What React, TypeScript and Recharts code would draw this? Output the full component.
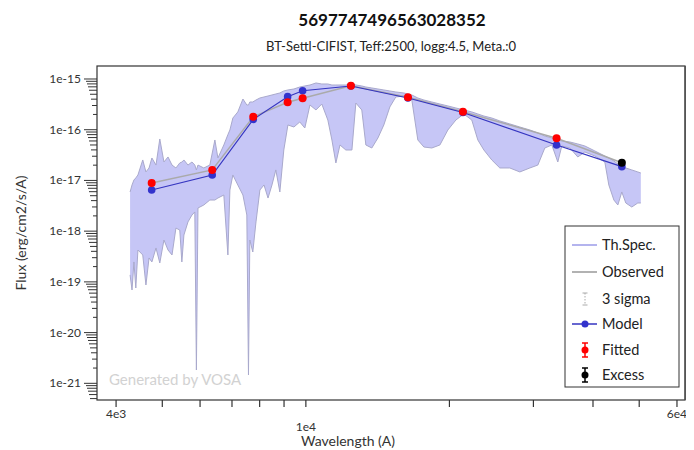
import React from 'react';
import { ComposedChart, Area, Line, XAxis, YAxis } from 'recharts';

// theoretical spectrum (Th.Spec.), upper / lower envelope of the dense model spectrum
const specWave = [
  4280, 4320, 4360, 4400, 4445, 4550, 4620, 4690, 4755, 4850,
  4940, 5040, 5140, 5240, 5340, 5440, 5495, 5550, 5660, 5770, 5850,
  5895, 5940, 6110, 6290, 6445, 6540, 6730, 6863, 6930, 7030, 7200,
  7380, 7520, 7580, 7630, 7740, 7860, 8010, 8170, 8330, 8490,
  8650, 8820, 8990, 9170, 9440, 9710, 9950, 10200, 10500, 10800,
  11120, 11340, 11560, 11790, 12130, 12490, 12730, 13100, 13360, 13750,
  14160, 14570, 15000, 15440, 16050, 16680, 17170, 17680, 18370, 19100,
  19850, 20630, 21440, 22280, 22940, 23620, 24540, 25510, 26770, 28100,
  29490, 30650, 31700, 32790, 33750, 34410, 35770, 37170, 38450, 40360,
  42350, 43180, 44240, 45100, 45970, 46870, 48240, 49660, 50390,
];
const specHigh = [
  5.92e-18, 8.13e-18, 1.02e-17, 1.12e-17, 1.28e-17, 2.53e-17, 1.47e-17, 1.76e-17, 2.77e-17, 2.01e-17,
  6.56e-17, 2.31e-17, 2.9e-17, 2.01e-17, 1.76e-17, 2.21e-17, 2.3e-17, 2.53e-17, 2.01e-17, 2.31e-17, 2.01e-17,
  1.61e-17, 2.01e-17, 1.76e-17, 2.01e-17, 6.27e-17, 2.77e-17, 5.0e-17, 8.0e-17, 9.87e-17, 1.7e-16, 2.24e-16,
  4.03e-16, 3.07e-16, 3.07e-16, 3.52e-16, 3.52e-16, 3.85e-16, 4.22e-16, 4.42e-16, 4.62e-16, 4.84e-16,
  5.06e-16, 5.3e-16, 5.8e-16, 6.07e-16, 6.35e-16, 6.95e-16, 7.28e-16, 7.61e-16, 8.34e-16, 7.97e-16,
  7.97e-16, 7.61e-16, 7.61e-16, 7.61e-16, 7.61e-16, 7.97e-16, 7.61e-16, 7.28e-16, 6.95e-16, 6.65e-16,
  6.35e-16, 6.07e-16, 5.8e-16, 5.54e-16, 5.3e-16, 4.84e-16, 4.22e-16, 3.85e-16, 3.52e-16, 3.21e-16,
  2.94e-16, 2.68e-16, 2.45e-16, 2.24e-16, 2.04e-16, 1.86e-16, 1.7e-16, 1.49e-16, 1.3e-16, 1.13e-16,
  9.87e-17, 8.62e-17, 7.52e-17, 6.87e-17, 6.27e-17, 5.99e-17, 5.73e-17, 5.23e-17, 4.78e-17, 3.81e-17,
  3.03e-17, 2.77e-17, 2.42e-17, 2.11e-17, 1.84e-17, 1.76e-17, 1.61e-17, 1.47e-17, 1.4e-17,
];
const specLow = [
  1.37e-19, 6.92e-20, 2.47e-19, 7.57e-20, 4.25e-19, 3.39e-19, 8.68e-20, 2.96e-19, 2.47e-19, 4.66e-19,
  2.36e-19, 6.69e-19, 4.25e-19, 3.39e-19, 1.15e-18, 1.05e-18, 2.47e-19, 8.4e-19, 1.52e-18, 2.08e-18, 2.39e-18,
  1.83e-21, 2.86e-18, 3.28e-18, 4.11e-18, 4.11e-18, 4.5e-18, 5.16e-18, 3.39e-19, 6.48e-18, 1.28e-17, 8.13e-18,
  5.16e-18, 2.08e-18, 1.46e-21, 6.69e-19, 3.88e-19, 1.52e-18, 6.48e-18, 8.13e-18, 4.5e-18, 8.13e-18,
  1.61e-17, 5.92e-18, 3.98e-17, 1.24e-16, 1.13e-16, 1.42e-16, 1.08e-16, 3.07e-16, 2.45e-16, 3.21e-16,
  1.55e-16, 6.27e-17, 2.21e-17, 5.0e-17, 3.98e-17, 3.98e-17, 3.36e-16, 2.45e-16, 5.0e-17, 4.36e-17,
  6.87e-17, 1.24e-16, 2.81e-16, 4.42e-16, 4.62e-16, 3.85e-16, 6.27e-17, 4.56e-17, 4.36e-17, 5.0e-17,
  9.87e-17, 1.55e-16, 2.04e-16, 1.55e-16, 6.27e-17, 3.98e-17, 2.53e-17, 1.76e-17, 1.76e-17, 1.47e-17,
  1.76e-17, 2.01e-17, 4.36e-17, 5.0e-17, 2.31e-17, 4.78e-17, 4.36e-17, 2.9e-17, 3.64e-17, 3.03e-17,
  2.31e-17, 8.13e-18, 4.11e-18, 3.28e-18, 5.92e-18, 3.59e-18, 2.99e-18, 3.59e-18, 3.59e-18,
];

// photometry
const bandWave = [4750, 6363, 7757, 9157, 9845, 12430, 16370, 21350, 33550, 45980];
const modelFlux = [6.47e-18, 1.28e-17, 1.6e-16, 4.48e-16, 5.87e-16, 7.27e-16, 4.22e-16, 2.18e-16, 4.99e-17, 1.87e-17];
const obsFlux = [8.9e-18, 1.61e-17, 1.8e-16, 3.47e-16, 4.16e-16, 7.38e-16, 4.35e-16, 2.26e-16, 6.77e-17, 2.23e-17];
const isExcess = [false, false, false, false, false, false, false, false, false, true];

const xMajorTicks = [4000, 10000, 60000];
const xMajorLabels = ['4e3', '1e4', '6e4'];
const xMinorTicks = [5000, 6000, 7000, 8000, 9000, 20000, 30000, 40000, 50000];
const yMajorTicks = [1e-21, 1e-20, 1e-19, 1e-18, 1e-17, 1e-16, 1e-15];

const X_DOMAIN = [3648, 62370];
const Y_DOMAIN = [4.69e-22, 1.803e-15];

const spectrum = specWave.map((w, i) => ({ w, range: [specLow[i], specHigh[i]] }));
const bands = bandWave.map((w, i) => ({ w, model: modelFlux[i], obs: obsFlux[i] }));
const fitted = bandWave.filter((_, i) => !isExcess[i]).map((w) => ({ w, flux: obsFlux[bandWave.indexOf(w)] }));
const excess = bandWave.filter((_, i) => isExcess[i]).map((w) => ({ w, flux: obsFlux[bandWave.indexOf(w)] }));

const xTicks = [...xMajorTicks, ...xMinorTicks].sort((a, b) => a - b);
const yTicks: number[] = [];
for (let e = -22; e <= -15; e++) {
  for (let m = 1; m <= 9; m++) {
    const v = m * Math.pow(10, e);
    if (v >= Y_DOMAIN[0] && v <= Y_DOMAIN[1]) yTicks.push(m === 1 ? yMajorTicks.find((t) => Math.abs(Math.log10(t) - e) < 1e-6) ?? v : v);
  }
}

const FONT = 'Lato, "DejaVu Sans", sans-serif';

const XTick = ({ x, y, payload }: any) => {
  const idx = xMajorTicks.indexOf(payload.value);
  const label = idx >= 0 ? xMajorLabels[idx] : null;
  return (
    <g>
      <line x1={x} x2={x} y1={y} y2={y + 7} stroke="#333" strokeWidth={1.2} />
      {label && (
        <text x={x} y={label === '1e4' ? y + 31 : y + 18} textAnchor="middle" fontSize={12} fill="#333" fontFamily={FONT}>
          {label}
        </text>
      )}
    </g>
  );
};

const YTick = ({ x, y, payload }: any) => {
  const v = payload.value;
  const lg = Math.log10(v);
  const e = Math.round(lg);
  const major = Math.abs(lg - e) < 1e-6;
  const m = Math.round(v / Math.pow(10, Math.floor(lg + 1e-9)));
  const len = major ? 13 : 2 + m;
  return (
    <g>
      <line x1={x - len} x2={x} y1={y} y2={y} stroke="#333" strokeWidth={1} />
      {major && (
        <text x={x - 16} y={y + 4} textAnchor="end" fontSize={12} fill="#333" fontFamily={FONT}>
          {`1e${e}`}
        </text>
      )}
    </g>
  );
};

const legendRows = [
  { label: 'Th.Spec.', kind: 'spec' },
  { label: 'Observed', kind: 'obs' },
  { label: '3 sigma', kind: 'sigma' },
  { label: 'Model', kind: 'model' },
  { label: 'Fitted', kind: 'fitted' },
  { label: 'Excess', kind: 'excess' },
];

const LegendIcon = ({ kind, y }: { kind: string; y: number }) => {
  const cx = 577;
  if (kind === 'spec') return <line x1={564} x2={589} y1={y} y2={y} stroke="#b4b4ee" strokeWidth={2} />;
  if (kind === 'obs') return <line x1={564} x2={589} y1={y} y2={y} stroke="#999" strokeWidth={1.5} />;
  if (kind === 'sigma')
    return (
      <g stroke="#aaa" strokeWidth={1}>
        <line x1={cx} x2={cx} y1={y - 6} y2={y + 6} strokeDasharray="1.5 1.5" />
        <line x1={cx - 2.5} x2={cx + 2.5} y1={y - 6} y2={y - 6} />
        <line x1={cx - 2.5} x2={cx + 2.5} y1={y + 6} y2={y + 6} />
      </g>
    );
  if (kind === 'model')
    return (
      <g>
        <line x1={564} x2={589} y1={y} y2={y} stroke="#3535c0" strokeWidth={1.5} />
        <circle cx={cx} cy={y} r={3.5} fill="#3333cc" />
      </g>
    );
  const c = kind === 'fitted' ? '#ff0000' : '#000';
  return (
    <g stroke={c} strokeWidth={1.5}>
      <line x1={cx} x2={cx} y1={y - 7} y2={y + 7} />
      <line x1={cx - 3} x2={cx + 3} y1={y - 7} y2={y - 7} />
      <line x1={cx - 3} x2={cx + 3} y1={y + 7} y2={y + 7} />
      <circle cx={cx} cy={y} r={3.5} fill={c} stroke="none" />
    </g>
  );
};

export default function App() {
  const rowY = [237, 264, 291, 316, 342, 367];
  return (
    <div style={{ position: 'relative', width: 686, height: 442, fontFamily: FONT }}>
      <ComposedChart width={686} height={442} margin={{ top: 58, right: 9, bottom: 10, left: 0 }}>
        <XAxis
          dataKey="w"
          type="number"
          scale="log"
          domain={X_DOMAIN}
          allowDataOverflow
          ticks={xTicks}
          interval={0}
          tick={<XTick />}
          tickLine={false}
          axisLine={false}
          tickSize={0}
          tickMargin={0}
          height={40}
        />
        <YAxis
          type="number"
          scale="log"
          domain={Y_DOMAIN}
          allowDataOverflow
          ticks={yTicks}
          interval={0}
          tick={<YTick />}
          tickLine={false}
          axisLine={false}
          tickSize={0}
          tickMargin={0}
          width={89}
        />
        <Area
          data={spectrum}
          dataKey="range"
          type="linear"
          stroke="#a9a9cc"
          strokeWidth={1}
          fill="#c6c6f6"
          fillOpacity={1}
          isAnimationActive={false}
        />
        <Line data={bands} dataKey="obs" type="linear" stroke="#aaaaaa" strokeWidth={1.5} dot={false} isAnimationActive={false} />
        <Line
          data={bands}
          dataKey="model"
          type="linear"
          stroke="#3535c0"
          strokeWidth={1.2}
          dot={{ r: 3.8, fill: '#3333cc', stroke: 'none' }}
          isAnimationActive={false}
        />
        <Line
          data={fitted}
          dataKey="flux"
          stroke="none"
          dot={{ r: 4, fill: '#ff0000', stroke: 'none' }}
          isAnimationActive={false}
        />
        <Line
          data={excess}
          dataKey="flux"
          stroke="none"
          dot={{ r: 4, fill: '#000', stroke: 'none' }}
          isAnimationActive={false}
        />
      </ComposedChart>

      <svg width={686} height={442} style={{ position: 'absolute', left: 0, top: 0, pointerEvents: 'none' }}>
        <text x={384} y={18} textAnchor="middle" fontSize={17} fontWeight="bold" fill="#111">
          5697747496563028352
        </text>
        <text x={383} y={43} textAnchor="middle" fontSize={13} fill="#222">
          BT-Settl-CIFIST, Teff:2500, logg:4.5, Meta.:0
        </text>
        <text x={18} y={225} textAnchor="middle" fontSize={14} fill="#333" transform="rotate(-90 18 225)">
          Flux (erg/cm2/s/A)
        </text>
        <text x={340} y={438} textAnchor="middle" fontSize={14} fill="#333">
          Wavelength (A)
        </text>
        <text x={101} y={377} fontSize={15} fill="#d2d2d2">
          Generated by VOSA
        </text>
        <rect x={89} y={58} width={588} height={334} fill="none" stroke="#333" strokeWidth={1.2} />
        <line x1={677.5} x2={677.5} y1={58} y2={392} stroke="#555" strokeWidth={2} />
        <rect x={557} y={218} width={114} height={161} fill="#fff" stroke="#333" strokeWidth={1} />
        {legendRows.map((r, i) => (
          <g key={r.label}>
            <LegendIcon kind={r.kind} y={rowY[i]} />
            <text x={594} y={rowY[i] + 5} fontSize={14.5} fill="#222">
              {r.label}
            </text>
          </g>
        ))}
      </svg>
    </div>
  );
}
